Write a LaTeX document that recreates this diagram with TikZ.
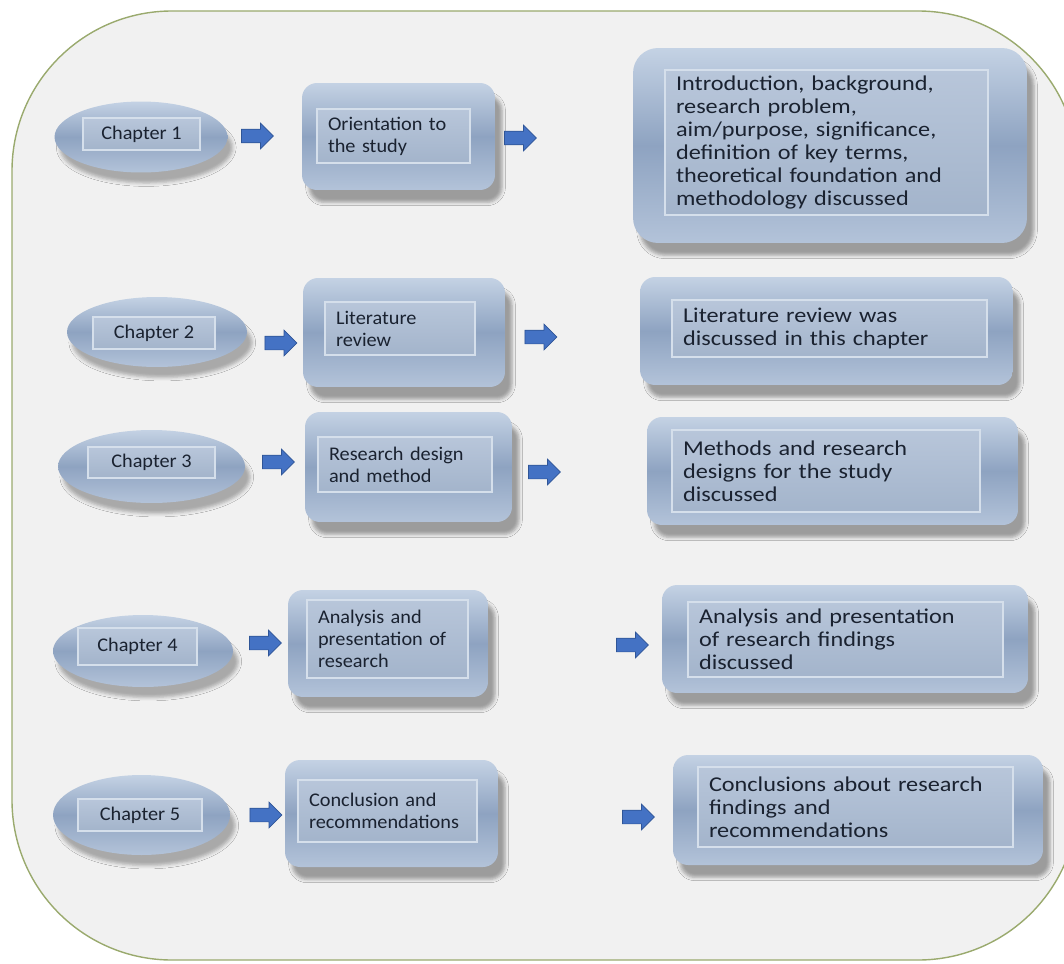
\documentclass[tikz,border=0pt]{standalone}
\usepackage{fontspec}
\setmainfont{Carlito}[FakeStretch=1.05]
\newfontfamily\widefont{Carlito}[FakeStretch=1.15]
\usetikzlibrary{shapes.geometric,shapes.arrows,shadows.blur}
\definecolor{frameline}{HTML}{9AAA6E}
\definecolor{framefill}{HTML}{F1F1F1}
\definecolor{boxtop}{HTML}{C4D2E4}
\definecolor{boxmid}{HTML}{8EA3C1}
\definecolor{boxbot}{HTML}{B3C3D9}
\definecolor{facetop}{HTML}{B8C6DA}
\definecolor{facebot}{HTML}{A3B4CB}
\definecolor{bevel}{HTML}{D5DFEB}
\definecolor{arrowblue}{HTML}{4472C4}
\definecolor{arrowedge}{HTML}{2F5597}
\definecolor{inktext}{HTML}{1A2230}

\begin{document}
\begin{tikzpicture}[
  x=0.02cm, y=-0.02cm,
  every node/.style={font=\fontsize{11}{12.6}\selectfont, text=inktext},
  chap/.style={ellipse, inner sep=0pt, top color=boxtop, bottom color=boxbot,
    middle color=boxmid,
    blur shadow={shadow xshift=3pt, shadow yshift=-6pt, shadow opacity=30}},
  topic/.style={rectangle, rounded corners=0.3cm, inner sep=0pt,
    top color=boxtop, bottom color=boxbot, middle color=boxmid,
    blur shadow={shadow xshift=4pt, shadow yshift=-7pt, shadow opacity=35}},
  face/.style={rectangle, draw=bevel, line width=1.6pt, inner xsep=0.22cm,
    inner ysep=0pt, top color=facetop, bottom color=facebot, align=left},
  chapface/.style={face, align=center, inner xsep=0pt},
  wide/.style={font=\widefont\fontsize{12}{13}\selectfont},
  blockarrow/.style={single arrow, single arrow head extend=0.12cm,
    inner xsep=0pt, inner ysep=0.13cm, minimum height=0.64cm,
    fill=arrowblue, draw=arrowedge, line width=0.4pt}
]
\useasboundingbox (0,0) rectangle (1064,963);
% Outer frame, its right side runs off the page.
\draw[frameline, fill=framefill, line width=0.8pt, rounded corners=3.2cm]
  (12,11) rectangle (1078,960);

% Chapter 1.
\node[chap, minimum width=3.46cm, minimum height=1.42cm] (ch1) at (141,137) {};
\node[chapface, minimum width=2.34cm, minimum height=0.64cm] (ch1f) at (141.5,134) {Chapter 1};
\node[blockarrow] (ar11) at (254,136) {};
\node[topic, minimum width=3.86cm, minimum height=2.14cm] (t1) at (398.5,136.5) {};
\node[face, text width=2.62cm, minimum height=1.08cm] (t1f) at (393.5,136)
  {Orientation to\\the study};
\node[blockarrow] (ar12) at (517,138) {};
\node[topic, rounded corners=0.5cm, minimum width=7.88cm, minimum height=3.9cm] (s1) at (830,145.5) {};
\node[face, wide, text width=6.02cm, minimum height=2.9cm, inner xsep=0.22cm] (s1f) at (826.5,142.5)
  {Introduction, background,\\research problem,\\aim/purpose, significance,\\definition of key terms,\\theoretical foundation and\\methodology discussed};

% Chapter 2.
\node[chap, minimum width=3.6cm, minimum height=1.4cm] (ch2) at (157,332) {};
\node[chapface, minimum width=2.44cm, minimum height=0.64cm] (ch2f) at (154,333) {Chapter 2};
\node[blockarrow] (ar21) at (277.5,343) {};
\node[topic, minimum width=4.04cm, minimum height=2.18cm] (t2) at (404,332.5) {};
\node[face, text width=2.56cm, minimum height=1.06cm] (t2f) at (400,328.5)
  {Literature\\review};
\node[blockarrow] (ar22) at (537.5,337) {};
\node[topic, minimum width=7.46cm, minimum height=2.16cm] (s2) at (826.5,331) {};
\node[face, wide, text width=5.86cm, minimum height=1.14cm] (s2f) at (829.5,328.5)
  {Literature review was\\discussed in this chapter};

% Chapter 3.
\node[chap, minimum width=3.74cm, minimum height=1.46cm] (ch3) at (151.5,466.5) {};
\node[chapface, minimum width=2.54cm, minimum height=0.62cm] (ch3f) at (151.5,462.5) {Chapter 3};
\node[blockarrow] (ar31) at (275,462) {};
\node[topic, minimum width=4.14cm, minimum height=2.2cm] (t3) at (408.5,467) {};
\node[face, text width=3.04cm, minimum height=1.1cm] (t3f) at (405,464.5)
  {Research design\\and method};
\node[blockarrow] (ar32) at (541,472) {};
\node[topic, minimum width=7.42cm, minimum height=2.16cm] (s3) at (832.5,471) {};
\node[face, wide, text width=5.72cm, minimum height=1.64cm] (s3f) at (826,471)
  {Methods and research\\designs for the study\\discussed};

% Chapter 4.
\node[chap, minimum width=3.6cm, minimum height=1.44cm] (ch4) at (143,651) {};
\node[chapface, minimum width=2.38cm, minimum height=0.74cm] (ch4f) at (137.5,646.5) {Chapter 4};
\node[blockarrow] (ar41) at (262,643) {};
\node[topic, minimum width=4cm, minimum height=2.14cm] (t4) at (388,643.5) {};
\node[face, text width=2.78cm, minimum height=1.56cm] (t4f) at (387.5,639)
  {Analysis and\\presentation of\\research};
\node[blockarrow] (ar42) at (629,645) {};
\node[topic, minimum width=7.32cm, minimum height=2.16cm] (s4) at (845,639) {};
\node[face, wide, text width=5.86cm, minimum height=1.5cm] (s4f) at (845.5,639.5)
  {Analysis and presentation\\of research findings\\discussed};

% Chapter 5.
\node[chap, minimum width=3.54cm, minimum height=1.6cm] (ch5) at (141.5,815) {};
\node[chapface, minimum width=2.48cm, minimum height=0.64cm] (ch5f) at (140,815) {Chapter 5};
\node[blockarrow] (ar51) at (262.5,815) {};
\node[topic, minimum width=4.26cm, minimum height=2.14cm] (t5) at (391.5,813.5) {};
\node[face, text width=3.14cm, minimum height=1.24cm] (t5f) at (387.5,811)
  {Conclusion and\\recommendations};
\node[blockarrow] (ar52) at (635,817) {};
\node[topic, minimum width=7.4cm, minimum height=2.2cm] (s5) at (858,810) {};
\node[face, wide, text width=5.86cm, minimum height=1.6cm] (s5f) at (855.5,807)
  {Conclusions about research\\findings and\\recommendations};
\end{tikzpicture}
\end{document}
